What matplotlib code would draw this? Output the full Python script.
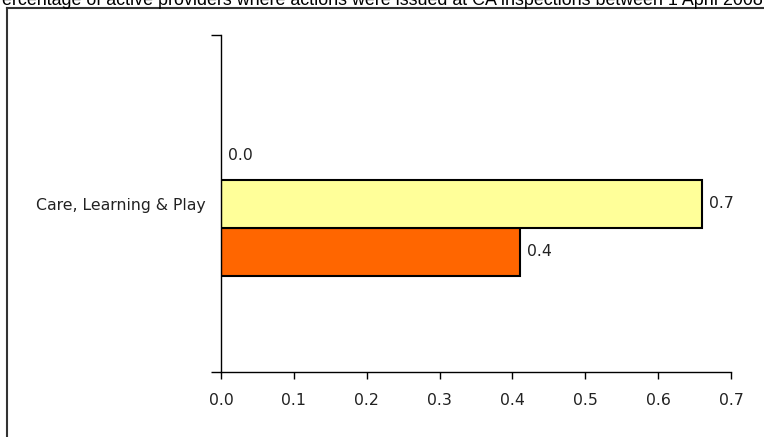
import matplotlib.pyplot as plt
from matplotlib.lines import Line2D

# Data
category = "Care, Learning & Play"
series_values = [0.41, 0.66, 0.0]          # bottom to top
series_colors = ["#FF6600", "#FFFF99", "#FFFFFF"]
value_labels = ["0.4", "0.7", "0.0"]
x_ticks = [0.0, 0.1, 0.2, 0.3, 0.4, 0.5, 0.6, 0.7]
title = "Percentage of active providers where actions were issued at CA inspections between 1 April 2008"

plt.rcParams['font.family'] = ['DejaVu Sans']

fig = plt.figure(figsize=(7.64, 4.37), dpi=100)
ax = fig.add_axes([221 / 764, 1 - 372 / 437, 510 / 764, 337 / 437])

bar_h = 48 / 337
offsets = [-bar_h, 0, bar_h]
for val, col, lab, off in zip(series_values, series_colors, value_labels, offsets):
    if val > 0:
        ax.barh(off, val, height=bar_h, color=col, edgecolor='black', linewidth=1.5)
    ax.annotate(lab, (val, off), xytext=(5, 0), textcoords='offset points',
                va='center', ha='left', fontsize=11.3, color='#222222')

ax.set_xlim(0, 0.7)
ax.set_ylim(-0.5, 0.5)
ax.set_xticks(x_ticks)
ax.set_xticklabels([f"{t:.1f}" for t in x_ticks], fontsize=11.3, color='#222222')
ax.tick_params(axis='x', direction='out', length=5, width=1, pad=10)

ax.set_yticks([0])
ax.set_yticklabels([category], fontsize=11.3, color='#222222')
ax.tick_params(axis='y', which='major', length=0, pad=11)
ax.set_yticks([-0.5, 0.5], minor=True)
ax.tick_params(axis='y', which='minor', direction='out', length=7, width=1)

for s in ['top', 'right']:
    ax.spines[s].set_visible(False)
for s in ['left', 'bottom']:
    ax.spines[s].set_linewidth(1)

# outer chart frame
fig.add_artist(Line2D([7 / 764, 7 / 764], [0, 1 - 8 / 437], color='#333333', lw=1.5))
fig.add_artist(Line2D([7 / 764, 1], [1 - 8 / 437, 1 - 8 / 437], color='#333333', lw=1.5))

fig.text(-10 / 764, 1 - 5 / 437, title, ha='left', va='baseline',
         fontsize=12.9, family='Liberation Sans', color='black')

fig.savefig('out.png', dpi=100)
